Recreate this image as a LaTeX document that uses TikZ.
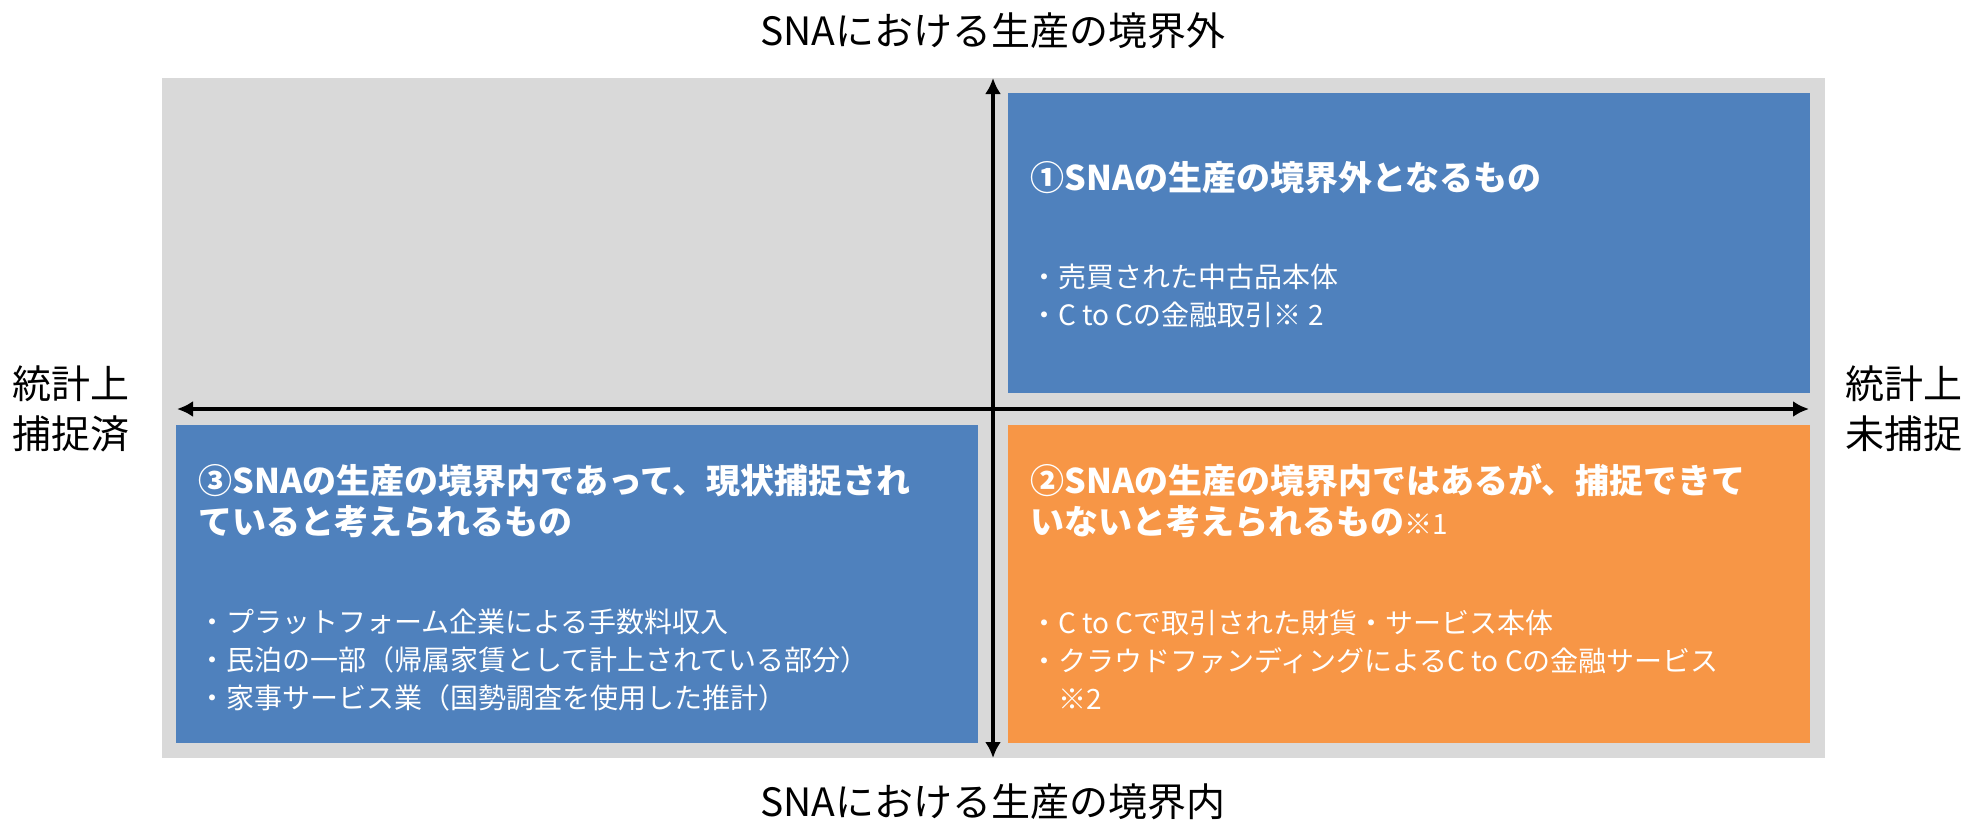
\documentclass[tikz,border=0pt]{standalone}
\usepackage{fontspec}
\setmainfont{Noto Sans CJK JP}
\usetikzlibrary{calc,arrows.meta}
\definecolor{PanelGray}{HTML}{D9D9D9}
\definecolor{QuadBlue}{HTML}{4F81BD}
\definecolor{QuadOrange}{HTML}{F79646}
\tikzset{%
	% Style of the grey panel
	Panel/.style={fill=PanelGray,inner sep=0,anchor=north west,minimum width=831.5pt,minimum height=340pt},
	% Style of a quadrant box
	Quadrant/.style={inner sep=0,anchor=north west,minimum width=401pt,minimum height=#1},
	Quadrant/.default=159pt,
	% Style of the bold quadrant title
	QuadTitle/.style={font=\fontsize{17pt}{20.5pt}\selectfont\bfseries,white,inner sep=0,anchor=west,align=left},
	% Style of the quadrant items
	QuadItem/.style={font=\fontsize{14pt}{19pt}\selectfont,white,inner sep=0,anchor=west,align=left},
	% Style of the axis names
	AxisName/.style={font=\fontsize{19.5pt}{25pt}\selectfont,black,inner sep=0},
	% Style of the axes
	Axis/.style={{Latex[length=8pt,width=8pt]}-{Latex[length=8pt,width=8pt]},line width=2pt},
}
\begin{document}
\begin{tikzpicture}[x=0.5pt,y=-0.5pt] % STYLES
\useasboundingbox (0,0) rectangle (1974,825);

%~~~~~~~~~~~~~~~~~~~~~~~~~~~~~~~~~~~~~~~~~~~~~~~~~~
% Set Panel and Quadrants
%~~~~~~~~~~~~~~~~~~~~~~~~~~~~~~~~~~~~~~~~~~~~~~~~~~
\node[Panel] (P) at (162, 78) {};

\node[Quadrant=150pt, fill=QuadBlue] (Q1) at (1008, 93) {};
\node[QuadTitle] at ($ (Q1.north west) + (22, 85) $) {①SNAの生産の境界外となるもの};
\node[QuadItem] at ($ (Q1.north west) + (22, 203) $) {・売買された中古品本体\\・C to Cの金融取引※ 2};

\node[Quadrant, fill=QuadOrange] (Q2) at (1008, 425) {};
\node[QuadTitle] at ($ (Q2.north west) + (22, 76) $) {②SNAの生産の境界内ではあるが、捕捉できて\\いないと考えられるもの{\mdseries\fontsize{14pt}{20.5pt}\selectfont ※1}};
\node[QuadItem] at ($ (Q2.north west) + (22, 235) $) {・C to Cで取引された財貨・サービス本体\\・クラウドファンディングによるC to Cの金融サービス\\\hspace{1em}※2};

\node[Quadrant, fill=QuadBlue] (Q3) at (176, 425) {};
\node[QuadTitle] at ($ (Q3.north west) + (22, 76) $) {③SNAの生産の境界内であって、現状捕捉され\\ていると考えられるもの};
\node[QuadItem] at ($ (Q3.north west) + (22, 235) $) {・プラットフォーム企業による手数料収入\\・民泊の一部（帰属家賃として計上されている部分）\\・家事サービス業（国勢調査を使用した推計）};

%~~~~~~~~~~~~~~~~~~~~~~~~~~~~~~~~~~~~~~~~~~~~~~~~~~
% Set Axes
%~~~~~~~~~~~~~~~~~~~~~~~~~~~~~~~~~~~~~~~~~~~~~~~~~~
\coordinate (AxTop) at (993, 78);
\coordinate (AxBottom) at (993, 758);
\coordinate (AxLeft) at (177, 409);
\coordinate (AxRight) at (1809, 409);

%Vertical axis
\draw[Axis] (AxTop) -- (AxBottom);
\node[AxisName] (Outside) at ($ (AxTop) + (0, -47) $) {SNAにおける生産の境界外};
\node[AxisName] (Inside) at ($ (AxBottom) + (0, 44) $) {SNAにおける生産の境界内};

%Horizontal axis
\draw[Axis] (AxLeft) -- (AxRight);
\node[AxisName, anchor=west, align=left] (Captured) at (12, 409) {統計上\\捕捉済};
\node[AxisName, anchor=west, align=left] (NotCaptured) at (1845, 409) {統計上\\未捕捉};

\end{tikzpicture}
\end{document}
